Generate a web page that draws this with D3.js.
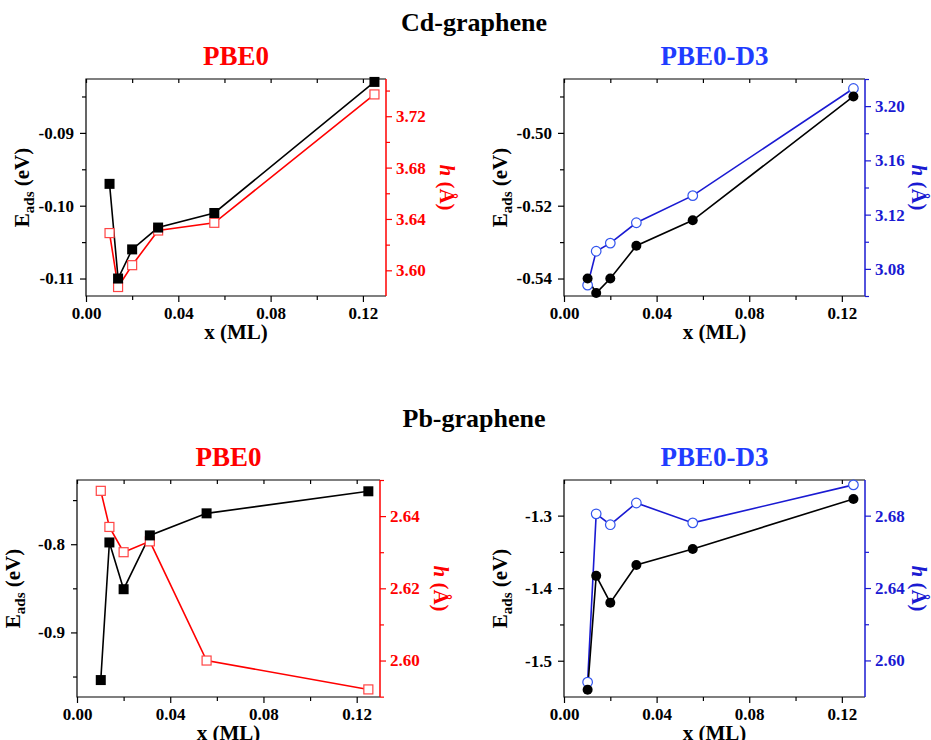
<!DOCTYPE html>
<html>

<head>
  <meta charset="utf8">
  <script src="https://d3js.org/d3.v7.min.js"></script>
  <style>
    body {
      margin: 0;
      background: #fff;
    }

    svg text {
      font-family: "Liberation Serif", "DejaVu Serif", serif !important;
      font-weight: bold;
    }

    .tick text {
      font-size: 17px;
    }
  </style>
</head>

<body>
  <svg id="chart" width="931" height="740"></svg>

  <script>
    // coverage x (ML) for the 7x7 ... 2x2 cells
    var coverage = [0.0102, 0.0139, 0.02, 0.03125, 0.0556, 0.125];

    var eCdPbe0 = [-0.097, -0.110, -0.106, -0.103, -0.101, -0.083];
    var hCdPbe0 = [3.629, 3.587, 3.604, 3.631, 3.637, 3.737];
    var eCdD3 = [-0.540, -0.544, -0.540, -0.531, -0.524, -0.490];
    var hCdD3 = [3.068, 3.093, 3.099, 3.114, 3.134, 3.213];

    var ePbPbe0 = [-0.954, -0.798, -0.851, -0.790, -0.765, -0.740];
    var hPbPbe0 = [2.647, 2.637, 2.630, 2.633, 2.600, 2.592];
    var ePbD3 = [-1.540, -1.383, -1.420, -1.368, -1.346, -1.277];
    var hPbD3 = [2.588, 2.681, 2.675, 2.687, 2.676, 2.697];

    var xTicks = [0.00, 0.04, 0.08, 0.12];
    var xMinor = [0.02, 0.06, 0.10];

    var red = '#ff0000';
    var blue = '#1f3cff';
    var darkBlue = '#1a1ad2';

    var panels = [
      {
        title: 'PBE0', titleColor: red, color: red, marker: 'square',
        box: [86, 79, 386, 296], e: eCdPbe0, h: hCdPbe0,
        eDomain: [-0.1124, -0.0826], eTicks: [-0.11, -0.10, -0.09], eMinor: [-0.105, -0.095, -0.085], eFmt: 2,
        hDomain: [3.580, 3.749], hTicks: [3.60, 3.64, 3.68, 3.72], hMinor: [3.62, 3.66, 3.70, 3.74]
      },
      {
        title: 'PBE0-D3', titleColor: blue, color: darkBlue, marker: 'circle',
        box: [564, 79, 865, 296], e: eCdD3, h: hCdD3,
        eDomain: [-0.5448, -0.4852], eTicks: [-0.54, -0.52, -0.50], eMinor: [-0.53, -0.51, -0.49], eFmt: 2,
        hDomain: [3.060, 3.220], hTicks: [3.08, 3.12, 3.16, 3.20], hMinor: [3.06, 3.10, 3.14, 3.18, 3.22]
      },
      {
        title: 'PBE0', titleColor: red, color: red, marker: 'square',
        box: [77, 480, 380, 697], e: ePbPbe0, h: hPbPbe0,
        eDomain: [-0.9732, -0.7272], eTicks: [-0.9, -0.8], eMinor: [-0.95, -0.85, -0.75], eFmt: 1,
        hDomain: [2.5899, 2.650], hTicks: [2.60, 2.62, 2.64], hMinor: [2.59, 2.61, 2.63, 2.65]
      },
      {
        title: 'PBE0-D3', titleColor: blue, color: darkBlue, marker: 'circle',
        box: [564, 480, 865, 697], e: ePbD3, h: hPbD3,
        eDomain: [-1.55, -1.2509], eTicks: [-1.5, -1.4, -1.3], eMinor: [-1.45, -1.35, -1.25], eFmt: 1,
        hDomain: [2.5798, 2.6997], hTicks: [2.60, 2.64, 2.68], hMinor: [2.62, 2.66]
      }
    ];

    var chart = d3.select('#chart');

    chart.append('text').attr('x', 474).attr('y', 31)
      .attr('text-anchor', 'middle').style('font-size', '26px')
      .text('Cd-graphene');
    chart.append('text').attr('x', 474).attr('y', 427)
      .attr('text-anchor', 'middle').style('font-size', '26px')
      .text('Pb-graphene');

    panels.forEach(function (p) {
      var left = p.box[0], top = p.box[1], right = p.box[2], bottom = p.box[3];
      var width = right - left, height = bottom - top;

      var x = d3.scaleLinear().domain([0, 0.13]).range([0, width]);
      var yE = d3.scaleLinear().domain(p.eDomain).range([height, 0]);
      var yH = d3.scaleLinear().domain(p.hDomain).range([height, 0]);

      var g = chart.append('g')
        .attr('transform', 'translate(' + left + ',' + top + ')');

      chart.append('text')
        .attr('x', left + width / 2).attr('y', top - 14)
        .attr('text-anchor', 'middle')
        .style('font-size', '27px')
        .attr('fill', p.titleColor)
        .text(p.title);

      // frame
      g.append('path')
        .attr('d', 'M' + width + ',0H0V' + height + 'H' + width)
        .attr('fill', 'none').attr('stroke', '#000').attr('stroke-width', 1.2);
      g.append('line')
        .attr('x1', width).attr('x2', width).attr('y1', 0).attr('y2', height)
        .attr('stroke', p.color).attr('stroke-width', 1.5);

      function clean(sel) {
        sel.attr('font-family', null);
        sel.select('.domain').remove();
        sel.selectAll('.tick line').attr('stroke-width', 1.2);
      }

      // bottom axis
      g.append('g').attr('transform', 'translate(0,' + height + ')')
        .call(d3.axisBottom(x).tickValues(xTicks).tickSize(6).tickPadding(5)
          .tickFormat(function (d) { return d.toFixed(2); }))
        .call(clean)
        .selectAll('text').attr('fill', '#000');
      g.append('g').attr('transform', 'translate(0,' + height + ')')
        .call(d3.axisBottom(x).tickValues(xMinor).tickSize(4).tickFormat(''))
        .call(clean);
      // top ticks, inward
      g.append('g')
        .call(d3.axisTop(x).tickValues(xTicks.concat(xMinor)).tickSize(-4).tickFormat(''))
        .call(clean);

      // left axis
      g.append('g')
        .call(d3.axisLeft(yE).tickValues(p.eTicks).tickSize(6).tickPadding(6)
          .tickFormat(function (d) { return d.toFixed(p.eFmt); }))
        .call(clean)
        .selectAll('text').attr('fill', '#000');
      g.append('g')
        .call(d3.axisLeft(yE).tickValues(p.eMinor.filter(function (v) {
          return v >= p.eDomain[0] && v <= p.eDomain[1];
        })).tickSize(4).tickFormat(''))
        .call(clean);

      // right axis, coloured
      var ra = g.append('g').attr('transform', 'translate(' + width + ',0)')
        .call(d3.axisRight(yH).tickValues(p.hTicks).tickSize(6).tickPadding(4)
          .tickFormat(function (d) { return d.toFixed(2); }))
        .call(clean);
      ra.selectAll('text').attr('fill', p.color);
      ra.selectAll('line').attr('stroke', p.color);
      var rm = g.append('g').attr('transform', 'translate(' + width + ',0)')
        .call(d3.axisRight(yH).tickValues(p.hMinor.filter(function (v) {
          return v >= p.hDomain[0] && v <= p.hDomain[1];
        })).tickSize(4).tickFormat(''))
        .call(clean);
      rm.selectAll('line').attr('stroke', p.color);

      // axis titles
      g.append('text')
        .attr('x', width / 2).attr('y', height + 43)
        .attr('text-anchor', 'middle').style('font-size', '21px')
        .text('x (ML)');

      var eLab = g.append('text')
        .attr('transform', 'translate(' + (-57) + ',' + (height / 2) + ') rotate(-90)')
        .attr('text-anchor', 'middle').style('font-size', '21px');
      eLab.append('tspan').text('E');
      eLab.append('tspan').text('ads').style('font-size', '15px').attr('dy', 5);
      eLab.append('tspan').text(' (eV)').attr('dy', -5);

      var hx = Math.min(right + 54, 912) - left;
      var hLab = g.append('text')
        .attr('transform', 'translate(' + hx + ',' + (height / 2) + ') rotate(90)')
        .attr('text-anchor', 'middle').style('font-size', '21px')
        .attr('fill', p.color);
      hLab.append('tspan').text('h').style('font-style', 'italic');
      hLab.append('tspan').text(' (Å)');

      // series lines
      var lineE = d3.line().x(function (d, i) { return x(coverage[i]); }).y(function (d) { return yE(d); });
      var lineH = d3.line().x(function (d, i) { return x(coverage[i]); }).y(function (d) { return yH(d); });

      g.append('path').attr('d', lineH(p.h))
        .attr('fill', 'none').attr('stroke', p.color).attr('stroke-width', 1.6);
      g.append('path').attr('d', lineE(p.e))
        .attr('fill', 'none').attr('stroke', '#000').attr('stroke-width', 1.6);

      if (p.marker === 'square') {
        g.selectAll('.hm').data(p.h).enter().append('rect')
          .attr('x', function (d, i) { return x(coverage[i]) - 4.5; })
          .attr('y', function (d) { return yH(d) - 4.5; })
          .attr('width', 9).attr('height', 9)
          .attr('fill', '#fff').attr('stroke', '#ff4444').attr('stroke-width', 1.2);
        g.selectAll('.em').data(p.e).enter().append('rect')
          .attr('x', function (d, i) { return x(coverage[i]) - 5; })
          .attr('y', function (d) { return yE(d) - 5; })
          .attr('width', 10).attr('height', 10)
          .attr('fill', '#000');
      } else {
        g.selectAll('.hm').data(p.h).enter().append('circle')
          .attr('cx', function (d, i) { return x(coverage[i]); })
          .attr('cy', function (d) { return yH(d); })
          .attr('r', 4.8)
          .attr('fill', '#fff').attr('stroke', '#3355ee').attr('stroke-width', 1.2);
        g.selectAll('.em').data(p.e).enter().append('circle')
          .attr('cx', function (d, i) { return x(coverage[i]); })
          .attr('cy', function (d) { return yE(d); })
          .attr('r', 5)
          .attr('fill', '#000');
      }
    });
  </script>
</body>

</html>
